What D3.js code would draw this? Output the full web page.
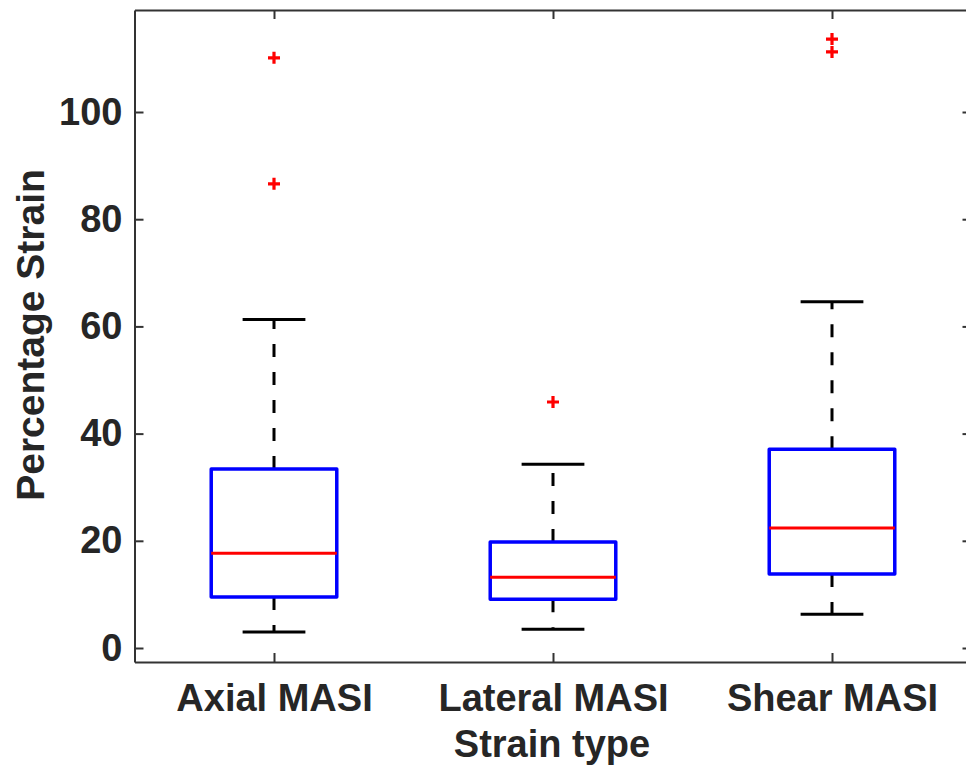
<!DOCTYPE html>
<html>
<head>
<meta charset="utf-8">
<script src="https://cdn.jsdelivr.net/npm/d3@7"></script>
<style>
  html, body { margin: 0; padding: 0; background: #fff; }
  svg { display: block; }
  text { font-family: "Liberation Sans", Arial, Helvetica, sans-serif; font-weight: bold; fill: #262626; }
</style>
</head>
<body>
<svg id="chart" width="966" height="777"></svg>
<script>
// ---- data ----
const categories = ["Axial MASI", "Lateral MASI", "Shear MASI"];
const lowerWhisker = [3.0, 3.5, 6.3];
const q1 = [9.5, 9.1, 13.8];
const medians = [17.7, 13.2, 22.4];
const q3 = [33.4, 19.8, 37.1];
const upperWhisker = [61.3, 34.3, 64.6];
const outliers = [[110.1, 86.6], [45.9], [113.6, 111.2]];
const yTicks = [0, 20, 40, 60, 80, 100];
const xLabel = "Strain type";
const yLabel = "Percentage Strain";

// ---- layout ----
const svg = d3.select("#chart");
const plotLeft = 134.5, plotRight = 971.5, plotTop = 10, plotBottom = 662;
const x = d3.scaleLinear().domain([0.5, 3.5]).range([plotLeft, plotRight]);
const y = d3.scaleLinear().domain([-2.61, 119.03]).range([plotBottom, plotTop]);
const boxHalf = 0.225, capHalf = 0.1125;
const axisColor = "#333333";
const fontSize = 38;

const g = svg.append("g");

// boxes
categories.forEach((c, i) => {
  const pos = i + 1;
  const grp = g.append("g");
  // whiskers (dashed)
  grp.append("line")
    .attr("x1", x(pos)).attr("x2", x(pos))
    .attr("y1", y(q3[i])).attr("y2", y(upperWhisker[i]))
    .attr("stroke", "#000").attr("stroke-width", 3)
    .attr("stroke-dasharray", "13,15");
  grp.append("line")
    .attr("x1", x(pos)).attr("x2", x(pos))
    .attr("y1", y(q1[i])).attr("y2", y(lowerWhisker[i]))
    .attr("stroke", "#000").attr("stroke-width", 3)
    .attr("stroke-dasharray", "13,15");
  // caps
  [upperWhisker[i], lowerWhisker[i]].forEach(v => {
    grp.append("line")
      .attr("x1", x(pos - capHalf)).attr("x2", x(pos + capHalf))
      .attr("y1", y(v)).attr("y2", y(v))
      .attr("stroke", "#000").attr("stroke-width", 3);
  });
  // box
  grp.append("rect")
    .attr("x", x(pos - boxHalf))
    .attr("y", y(q3[i]))
    .attr("width", x(pos + boxHalf) - x(pos - boxHalf))
    .attr("height", y(q1[i]) - y(q3[i]))
    .attr("fill", "none").attr("stroke", "#0000ff").attr("stroke-width", 3.5)
    .attr("stroke-linejoin", "round");
  // median
  grp.append("line")
    .attr("x1", x(pos - boxHalf)).attr("x2", x(pos + boxHalf))
    .attr("y1", y(medians[i])).attr("y2", y(medians[i]))
    .attr("stroke", "#ff0000").attr("stroke-width", 3);
  // outliers
  outliers[i].forEach(v => {
    grp.append("path")
      .attr("d", `M${x(pos) - 6},${y(v)}H${x(pos) + 6}M${x(pos)},${y(v) - 6}V${y(v) + 6}`)
      .attr("stroke", "#ff0000").attr("stroke-width", 3.2).attr("fill", "none");
  });
});

// axes
function styleAxis(sel) {
  sel.selectAll("path.domain").attr("stroke", axisColor).attr("stroke-width", 2);
  sel.selectAll(".tick line").attr("stroke", axisColor).attr("stroke-width", 2);
  sel.selectAll(".tick text").style("font-size", fontSize + "px")
     .style("font-family", "'Liberation Sans', Arial, sans-serif").style("font-weight", "bold")
     .attr("fill", "#262626");
}

const yAxis = d3.axisLeft(y).tickValues(yTicks).tickSizeInner(-9).tickSizeOuter(0).tickPadding(12);
svg.append("g").attr("transform", `translate(${plotLeft},0)`).call(yAxis).call(styleAxis);

const yAxisR = d3.axisRight(y).tickValues(yTicks).tickSizeInner(-9).tickSizeOuter(0).tickFormat("");
svg.append("g").attr("transform", `translate(${plotRight},0)`).call(yAxisR).call(styleAxis);

const xAxis = d3.axisBottom(x).tickValues([1, 2, 3]).tickFormat((d) => categories[d - 1])
  .tickSizeInner(-9).tickSizeOuter(0).tickPadding(22);
svg.append("g").attr("transform", `translate(0,${plotBottom})`).call(xAxis).call(styleAxis);

const xAxisT = d3.axisTop(x).tickValues([1, 2, 3]).tickSizeInner(-9).tickSizeOuter(0).tickFormat("");
svg.append("g").attr("transform", `translate(0,${plotTop})`).call(xAxisT).call(styleAxis);

// axis labels
svg.append("text")
  .attr("x", 552)
  .attr("y", 757)
  .attr("text-anchor", "middle")
  .style("font-size", fontSize + "px")
  .text(xLabel);

svg.append("text")
  .attr("transform", `translate(44,335) rotate(-90)`)
  .attr("text-anchor", "middle")
  .style("font-size", "39px")
  .text(yLabel);
</script>
</body>
</html>
